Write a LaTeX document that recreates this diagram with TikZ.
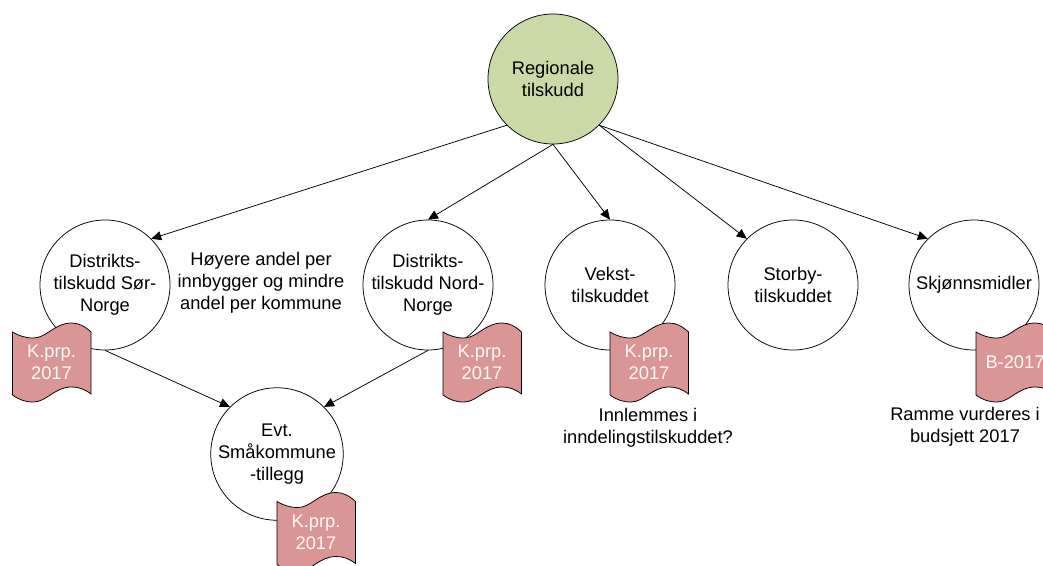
\documentclass[tikz,border=0pt]{standalone}
\usepackage{fontspec}
\setmainfont{Liberation Sans}
\usetikzlibrary{arrows.meta}
\definecolor{rootgreen}{HTML}{CBD9A7}
\definecolor{flagred}{HTML}{D99694}
\tikzset{
    tilskudd/.style={draw, circle, fill=white, minimum size=130pt, inner sep=0pt, align=center},
    root/.style={tilskudd, fill=rootgreen},
    note/.style={align=center},
    flagtext/.style={align=center, text=white!95!flagred},
    arrow/.style={-{Triangle[length=10pt,width=9pt]}}
}
\newcommand{\docflag}[4]{
    \draw[fill=flagred, shift={(#2,#3)}] (0,9) .. controls (7,13) and (13,15) .. (21,15)
        .. controls (34,15) and (42,0) .. (59,0) .. controls (66,0) and (72,3) .. (78.5,9)
        -- (78.5,71) .. controls (72,66) and (66,64) .. (59,64)
        .. controls (42,64) and (34,79) .. (21,79) .. controls (13,79) and (7,77) .. (0,72) -- cycle;
    \node[flagtext] (#1) at (#2+39,#3+39.5) {#4};
}
\begin{document}
\begin{tikzpicture}[x=1pt, y=-1pt, line width=0.75pt, font=\fontsize{18.3}{22}\selectfont]
    \useasboundingbox (0,0) rectangle (1043,565);
    \clip (0,0) rectangle (1043,565);
    % circles
    \node [root] (regional) at (553,79) {Regionale\\tilskudd};
    \node [tilskudd] (sor) at (105,285) {Distrikts-\\tilskudd Sør-\\Norge};
    \node [tilskudd] (nord) at (428,285) {Distrikts-\\tilskudd Nord-\\Norge};
    \node [tilskudd] (vekst) at (610,285) {Vekst-\\tilskuddet};
    \node [tilskudd] (storby) at (793,285) {Storby-\\tilskuddet};
    \node [tilskudd] (skjonn) at (974,285) {Skjønnsmidler};
    \node [tilskudd] (smaa) at (277,454) {Evt.\\Småkommune\\-tillegg};
    % connectors
    \draw [arrow] (regional.south west) -- (sor.north east);
    \draw [arrow] (regional.south) -- (nord.north);
    \draw [arrow] (regional.south) -- (vekst.north);
    \draw [arrow] (regional.south east) -- (storby.north west);
    \draw [arrow] (regional.south east) -- (skjonn.north west);
    \draw [arrow] (sor.south) -- (smaa.north west);
    \draw [arrow] (nord.south) -- (smaa.north east);
    % flags
    \docflag{flagsor}{12.5}{323}{K.prp.\\2017}
    \docflag{flagnord}{443}{323}{K.prp.\\2017}
    \docflag{flagvekst}{610}{323}{K.prp.\\2017}
    \docflag{flagskjonn}{976}{323}{B-2017}
    \docflag{flagsmaa}{277}{492.5}{K.prp.\\2017}
    % notes
    \node [note] (andel) at (261,283) {Høyere andel per\\innbygger og mindre\\andel per kommune};
    \node [note] (innlemmes) at (648,428) {Innlemmes i\\inndelingstilskuddet?};
    \node [note] (ramme) at (965,427) {Ramme vurderes i\\budsjett 2017};
\end{tikzpicture}
\end{document}
